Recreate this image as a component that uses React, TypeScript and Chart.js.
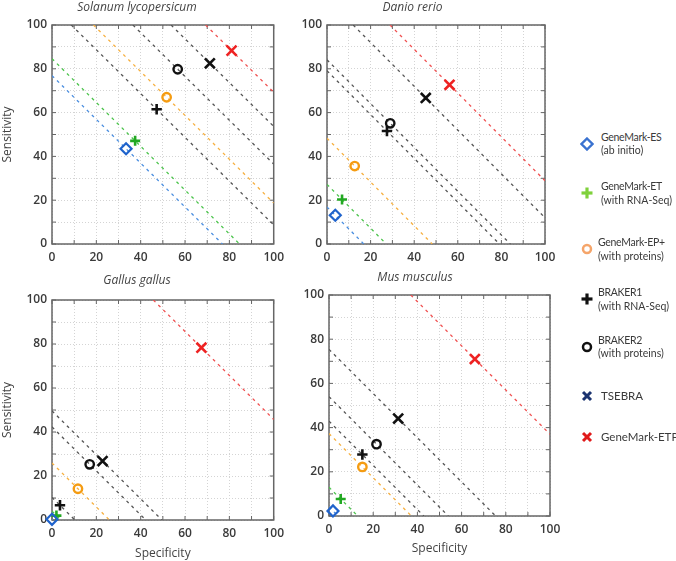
import React, { useEffect, useRef } from 'react';
import { Chart, registerables } from 'chart.js';

Chart.register(...registerables);

// Panels (species), in drawing order
const species = ['Solanum lycopersicum', 'Danio rerio', 'Gallus gallus', 'Mus musculus'];

// Specificity (x) and Sensitivity (y) for each method, one value per species above
const esSpec = [33.4, 3.8, 0.0, 1.8];
const esSens = [43.5, 13.1, 0.3, 2.3];
const etSpec = [37.5, 6.9, 2.0, 5.3];
const etSens = [47.1, 20.3, 2.0, 7.7];
const epSpec = [51.7, 12.7, 11.7, 15.1];
const epSens = [67.0, 35.6, 14.2, 22.2];
const b1Spec = [47.2, 27.5, 3.6, 15.1];
const b1Sens = [61.5, 51.6, 6.7, 27.8];
const b2Spec = [56.7, 29.0, 17.0, 21.5];
const b2Sens = [79.8, 55.1, 25.3, 32.5];
const tsSpec = [71.2, 45.3, 22.8, 31.3];
const tsSens = [82.5, 66.7, 26.8, 44.1];
const etpSpec = [81.0, 56.2, 67.4, 66.0];
const etpSens = [88.3, 72.7, 78.3, 71.0];

// Axis tick labels
const tickLabels = [0, 20, 40, 60, 80, 100];

const methods = [
  { name: 'GeneMark-ES', sub: '(ab initio)', spec: esSpec, sens: esSens, style: 'rectRot', color: '#1f63cc', line: '#4a8ee0', radius: 5.5, bw: 2.2 },
  { name: 'GeneMark-ET', sub: '(with RNA-Seq)', spec: etSpec, sens: etSens, style: 'cross', color: '#22a822', line: '#4cc44c', radius: 5, bw: 2.6 },
  { name: 'GeneMark-EP+', sub: '(with proteins)', spec: epSpec, sens: epSens, style: 'circle', color: '#f59c12', line: '#f7b040', radius: 4.2, bw: 2.4 },
  { name: 'BRAKER1', sub: '(with RNA-Seq)', spec: b1Spec, sens: b1Sens, style: 'cross', color: '#111111', line: '#555555', radius: 5.2, bw: 2.6 },
  { name: 'BRAKER2', sub: '(with proteins)', spec: b2Spec, sens: b2Sens, style: 'circle', color: '#111111', line: '#555555', radius: 4.2, bw: 2.4 },
  { name: 'TSEBRA', sub: '', spec: tsSpec, sens: tsSens, style: 'crossRot', color: '#111111', line: '#555555', radius: 7, bw: 2.6 },
  { name: 'GeneMark-ETP', sub: '', spec: etpSpec, sens: etpSens, style: 'crossRot', color: '#ee2222', line: '#f05050', radius: 7, bw: 2.6 },
];

const panels = [
  { left: 0, top: 0, w: 290, h: 270, yW: 52, padR: 16, xH: 26, tPad: 10.6, yTitle: true, xTitle: false },
  { left: 280, top: 0, w: 290, h: 270, yW: 47, padR: 25, xH: 26, tPad: 10.6, yTitle: false, xTitle: false },
  { left: 0, top: 273, w: 290, h: 288, yW: 52, padR: 16, xH: 41, tPad: 12.6, yTitle: true, xTitle: true },
  { left: 280, top: 270, w: 290, h: 286, yW: 49, padR: 20, xH: 40, tPad: 10.6, yTitle: false, xTitle: true },
];

const FONT = "'Open Sans', 'DejaVu Sans', sans-serif";

const framePlugin = {
  id: 'frameBox',
  beforeDatasetsDraw(chart: any) {
    const { ctx, chartArea: a, scales } = chart;
    ctx.save();
    ctx.strokeStyle = '#666';
    ctx.lineWidth = 1.5;
    ctx.strokeRect(a.left, a.top, a.right - a.left, a.bottom - a.top);
    ctx.lineWidth = 1;
    const tl = 4;
    scales.x.ticks.forEach((t: any) => {
      const px = scales.x.getPixelForValue(t.value);
      ctx.beginPath();
      ctx.moveTo(px, a.bottom); ctx.lineTo(px, a.bottom - tl);
      ctx.moveTo(px, a.top); ctx.lineTo(px, a.top + tl);
      ctx.stroke();
    });
    scales.y.ticks.forEach((t: any) => {
      const py = scales.y.getPixelForValue(t.value);
      ctx.beginPath();
      ctx.moveTo(a.left, py); ctx.lineTo(a.left + tl, py);
      ctx.moveTo(a.right, py); ctx.lineTo(a.right - tl, py);
      ctx.stroke();
    });
    ctx.restore();
  },
};

function isoLine(sx: number, sy: number) {
  const s = sx + sy;
  if (s <= 100) return [{ x: 0, y: s }, { x: s, y: 0 }];
  return [{ x: s - 100, y: 100 }, { x: 100, y: s - 100 }];
}

function Panel({ idx }: { idx: number }) {
  const ref = useRef<HTMLCanvasElement>(null);
  const p = panels[idx];
  useEffect(() => {
    if (!ref.current) return;
    const lineSets = methods.map((m) => ({
      data: isoLine(m.spec[idx], m.sens[idx]),
      showLine: true,
      borderColor: m.line,
      borderWidth: 1.3,
      borderDash: [3, 4],
      pointRadius: 0,
      pointHoverRadius: 0,
      fill: false,
      order: 2,
    }));
    const pointSets = methods.map((m) => ({
      data: [{ x: m.spec[idx], y: m.sens[idx] }],
      showLine: false,
      pointStyle: m.style,
      pointRadius: m.radius,
      pointHoverRadius: m.radius,
      pointBorderWidth: m.bw,
      pointHoverBorderWidth: m.bw,
      pointBorderColor: m.color,
      pointBackgroundColor: 'rgba(0,0,0,0)',
      borderColor: m.color,
      backgroundColor: 'rgba(0,0,0,0)',
      clip: false,
      order: 1,
    }));
    const axisCommon = (isX: boolean) => ({
      type: 'linear',
      min: 0,
      max: 100,
      grid: { color: '#d4d4d4', lineWidth: 1, drawTicks: false },
      border: { display: false, dash: [1, 2] },
      ticks: {
        stepSize: 10,
        autoSkip: false,
        maxRotation: 0,
        minRotation: 0,
        padding: isX ? 6 : 5,
        color: '#3a3a3a',
        font: { family: FONT, size: 12, weight: '600' },
        callback: (v: any) => (tickLabels.includes(Number(v)) ? String(v) : ''),
      },
    });
    const chart = new Chart(ref.current, {
      type: 'scatter',
      data: { datasets: [...lineSets, ...pointSets] as any },
      plugins: [framePlugin],
      options: {
        responsive: false,
        animation: false,
        events: [],
        layout: { padding: { left: 0, top: 0, right: p.padR, bottom: 0 } },
        plugins: {
          legend: { display: false },
          tooltip: { enabled: false },
          title: {
            display: true,
            text: species[idx],
            color: '#444',
            font: { family: FONT, size: 12, style: 'italic', weight: 'normal', lineHeight: 1.2 },
            padding: { top: 0, bottom: p.tPad },
          },
        },
        scales: {
          x: {
            ...axisCommon(true),
            position: 'bottom',
            title: {
              display: p.xTitle,
              text: 'Specificity',
              color: '#444',
              padding: 0,
              font: { family: FONT, size: 12, lineHeight: 1.2 },
            },
            afterFit: (s: any) => { s.height = p.xH; },
          },
          y: {
            ...axisCommon(false),
            position: 'left',
            title: {
              display: p.yTitle,
              text: 'Sensitivity',
              color: '#444',
              padding: 0,
              font: { family: FONT, size: 12, lineHeight: 1.2 },
            },
            afterFit: (s: any) => { s.width = p.yW; },
          },
        } as any,
      },
    } as any);
    return () => chart.destroy();
  }, [idx]);
  return (
    <canvas
      ref={ref}
      width={p.w}
      height={p.h}
      style={{ position: 'absolute', left: p.left, top: p.top, width: p.w, height: p.h }}
    />
  );
}

const legendColors = ['#3a72d0', '#7fd13b', '#f5a56a', '#111111', '#111111', '#1c3470', '#e01a1a'];
const legendY = [143.5, 193, 249, 299, 346.5, 395.5, 436.5];
const legendTextX = [601, 601, 598, 598, 598, 601, 601];

function Marker({ kind, color }: { kind: string; color: string }) {
  let shape: any = null;
  if (kind === 'rectRot') shape = <polygon points="7,1.5 12.5,7 7,12.5 1.5,7" fill="none" stroke={color} strokeWidth={2.4} />;
  else if (kind === 'cross') shape = <g stroke={color} strokeWidth={3.2}><line x1={7} y1={1.5} x2={7} y2={12.5} /><line x1={1.5} y1={7} x2={12.5} y2={7} /></g>;
  else if (kind === 'circle') shape = <circle cx={7} cy={7} r={4} fill="none" stroke={color} strokeWidth={2.5} />;
  else shape = <g stroke={color} strokeWidth={3}><line x1={3} y1={3} x2={11} y2={11} /><line x1={11} y1={3} x2={3} y2={11} /></g>;
  return <svg width={14} height={14} style={{ display: 'block' }}>{shape}</svg>;
}

const LFONT = "'Lato', 'Open Sans', sans-serif";

function Legend() {
  return (
    <>
      {methods.map((m, i) => {
        const y = legendY[i];
        const two = !!m.sub;
        return (
          <React.Fragment key={m.name}>
            <div style={{ position: 'absolute', left: 580, top: y - 7, width: 14, height: 14 }}>
              <Marker kind={m.style} color={legendColors[i]} />
            </div>
            <div
              style={{
                position: 'absolute',
                left: legendTextX[i],
                top: (two ? y - 6.5 : y) - 7.5,
                fontFamily: LFONT,
                fontSize: two ? 10.5 : 11.5,
                letterSpacing: two ? '-0.3px' : '0px',
                lineHeight: '15px',
                color: '#3a3a3a',
                whiteSpace: 'nowrap',
              }}
            >
              {m.name}
            </div>
            {two ? (
              <div
                style={{
                  position: 'absolute',
                  left: legendTextX[i],
                  top: y + 7 - 7.5,
                  fontFamily: LFONT,
                  fontSize: 10.5,
                  lineHeight: '15px',
                  color: '#3a3a3a',
                  whiteSpace: 'nowrap',
                }}
              >
                {m.sub}
              </div>
            ) : null}
          </React.Fragment>
        );
      })}
    </>
  );
}

export default function App() {
  return (
    <div style={{ position: 'absolute', left: 0, top: 0, width: 676, height: 561, background: '#fff', overflow: 'hidden' }}>
      {panels.map((_, i) => (
        <Panel key={i} idx={i} />
      ))}
      <Legend />
    </div>
  );
}
